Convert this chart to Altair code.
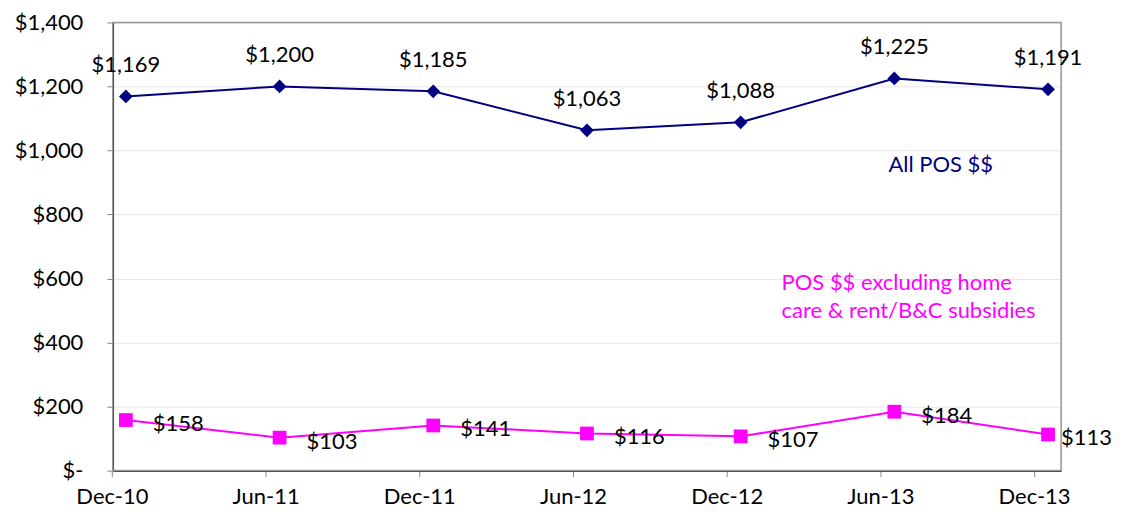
import altair as alt
import pandas as pd

periods = ["Dec-10", "Jun-11", "Dec-11", "Jun-12", "Dec-12", "Jun-13", "Dec-13"]
all_pos = [1169, 1200, 1185, 1063, 1088, 1225, 1191]
excl_pos = [158, 103, 141, 116, 107, 184, 113]

FONT = "Lato"
FS = 22

df_all = pd.DataFrame({"period": periods, "value": all_pos,
                       "label": [f"${v:,}" for v in all_pos]})
df_ex = pd.DataFrame({"period": periods, "value": excl_pos,
                      "label": [f"${v:,}" for v in excl_pos]})

x_enc = alt.X("period:O", sort=periods,
              scale=alt.Scale(type="point", padding=0.085),
              axis=alt.Axis(title=None, labelAngle=0, labelFont=FONT, labelFontSize=FS,
                            labelColor="black", domainColor="black", domainWidth=1.5,
                            tickColor="#888888", tickSize=6, tickOffset=-14,
                            labelPadding=10, grid=False))
y_scale = alt.Scale(domain=[0, 1400], nice=False)
y_enc = alt.Y("value:Q", scale=y_scale,
              axis=alt.Axis(title=None, values=[0, 200, 400, 600, 800, 1000, 1200, 1400],
                            labelExpr="datum.value == 0 ? '$-' : '$' + format(datum.value, ',')",
                            labelFont=FONT, labelFontSize=FS, labelColor="black",
                            domainColor="black", domainWidth=1.5,
                            tickColor="#888888", tickSize=6, labelPadding=24,
                            grid=True, gridColor="#e6e6e6"))

base_all = alt.Chart(df_all).encode(x=x_enc, y=y_enc)
base_ex = alt.Chart(df_ex).encode(x=x_enc, y=y_enc)

line_all = base_all.mark_line(color="#000080", strokeWidth=2)
pts_all = base_all.mark_point(shape="diamond", filled=True, color="#000080", size=190, opacity=1)
txt_all = base_all.mark_text(font=FONT, fontSize=FS, color="black", dy=-31).encode(text="label:N")

line_ex = base_ex.mark_line(color="#FF00FF", strokeWidth=2)
pts_ex = base_ex.mark_point(shape="square", filled=True, color="#FF00FF", size=190, opacity=1)
txt_ex = base_ex.transform_filter(alt.datum.period != "Dec-13").mark_text(
    font=FONT, fontSize=FS, color="black", align="left", dx=27, dy=4).encode(text="label:N")
txt_ex_last = base_ex.transform_filter(alt.datum.period == "Dec-13").mark_text(
    font=FONT, fontSize=FS, color="black", align="left", dx=13, dy=4).encode(text="label:N")

ann = pd.DataFrame({
    "text": ["All POS $$", "POS $$ excluding home", "care & rent/B&C subsidies"],
    "x": [777, 670, 670], "y": [143, 261, 289],
    "color": ["#000080", "#FF00FF", "#FF00FF"],
})
ann_txt = alt.Chart(ann).mark_text(font=FONT, fontSize=FS, align="left", baseline="middle").encode(
    x=alt.X("x:Q", scale=None), y=alt.Y("y:Q", scale=None),
    text="text:N", color=alt.Color("color:N", scale=None))

frame = alt.Chart(pd.DataFrame({"a": [0]})).mark_rect(fill=None, stroke="#999999", strokeWidth=1.5).encode(
    x=alt.value(0), x2=alt.value(950), y=alt.value(0), y2=alt.value(449))

chart = alt.layer(frame, line_all, pts_all, txt_all, line_ex, pts_ex, txt_ex, txt_ex_last, ann_txt).properties(
    width=950, height=449,
    autosize=alt.AutoSizeParams(type="none"),
    padding={"left": 105, "top": 14, "right": 55, "bottom": 40},
).configure_view(stroke=None).configure(background="white")

chart.save("out.html", embed_options={"renderer": "svg", "actions": False})
